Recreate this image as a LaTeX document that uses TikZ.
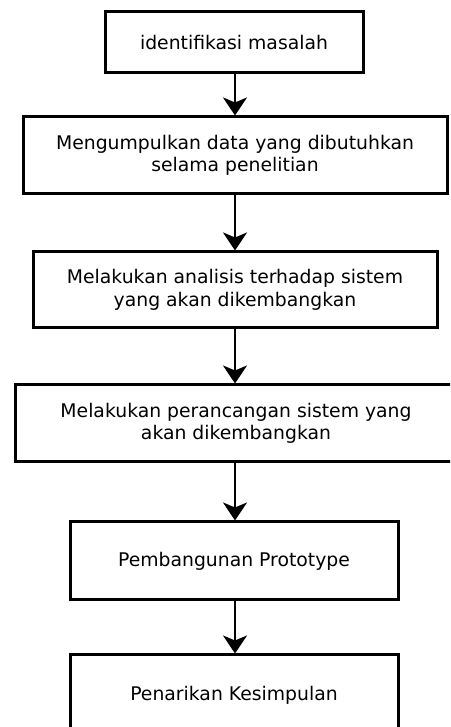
\documentclass[tikz,border=0pt]{standalone}
\usepackage{fontspec}
\setmainfont{DejaVu Sans}
\usetikzlibrary{arrows.meta}
\begin{document}
\begin{tikzpicture}[x=1pt,y=1pt,
  stepbox/.style={draw=black,line width=3pt,align=center,inner sep=0pt,
    font=\fontsize{18.8}{22.5}\selectfont},
  flow/.style={line width=2.6pt,-{Stealth[length=18pt,width=24pt,inset=5pt]}}]
\useasboundingbox (0,0) rectangle (450,727);
\clip (0,0) rectangle (450,727);
\fill[white] (0,0) rectangle (450,727);
\node[stepbox,minimum width=258pt,minimum height=61pt] (b1) at (234,684.5) {identifikasi masalah};
\node[stepbox,minimum width=424pt,minimum height=77pt] (b2) at (235,571.5) {Mengumpulkan data yang dibutuhkan\\selama penelitian};
\node[stepbox,minimum width=404pt,minimum height=76pt] (b3) at (235,437) {Melakukan analisis terhadap sistem\\yang akan dikembangkan};
\node[stepbox,minimum width=442pt,minimum height=77pt] (b4) at (236,303.5) {Melakukan perancangan sistem yang\\akan dikembangkan};
\node[stepbox,minimum width=328pt,minimum height=78pt] (b5) at (234,166) {Pembangunan Prototype};
\node[stepbox,minimum width=328pt,minimum height=80pt] (b6) at (234,32) {Penarikan Kesimpulan};
\coordinate (ax) at (235,0);
\draw[flow] (b1.south -| ax) -- (b2.north -| ax);
\draw[flow] (b2.south -| ax) -- (b3.north -| ax);
\draw[flow] (b3.south -| ax) -- (b4.north -| ax);
\draw[flow] (b4.south -| ax) -- (b5.north -| ax);
\draw[flow] (b5.south -| ax) -- (b6.north -| ax);
\end{tikzpicture}
\end{document}
